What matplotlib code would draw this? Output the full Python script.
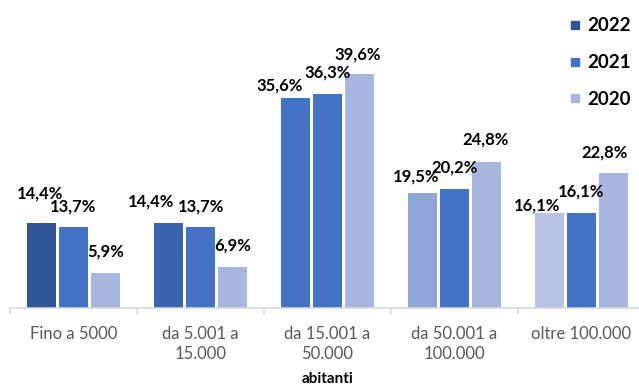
import numpy as np
import matplotlib.pyplot as plt
from matplotlib.lines import Line2D

plt.rcParams['font.family'] = ['Lato', 'DejaVu Sans']

categories = ['Fino a 5000', 'da 5.001 a\n15.000', 'da 15.001 a\n50.000',
              'da 50.001 a\n100.000', 'oltre 100.000']
years = ['2022', '2021', '2020']
v2022 = [14.4, 14.4, 35.6, 19.5, 16.1]
v2021 = [13.7, 13.7, 36.3, 20.2, 16.1]
v2020 = [5.9, 6.9, 39.6, 24.8, 22.8]

# Excel varied the 2022 point colours per category
c2022 = ['#2F5597', '#3964B0', '#4472C4', '#8FA6D8', '#B6C3E5']
c2021 = '#4472C4'
c2020 = '#A7B6DE'

# label nudges in pixels (dx, dy above bar top) to mimic Excel placement
off2022 = [(-1, 30), (-17, 22), (-16, 12), (-6, 16), (-12, 7)]
off2021 = [(0, 21), (1, 21), (0, 21), (0, 21), (0, 21)]
off2020 = [(0, 22), (0, 22), (-2, 20), (-1, 22), (-9, 21)]

fig = plt.figure(figsize=(6.39, 3.87), dpi=100)
ax = fig.add_axes([10/639, 79/387, 629/639, 265.5/387])

ind = np.arange(len(categories))
width = 0.228
step = 0.252

b1 = ax.bar(ind - step, v2022, width, color=c2022)
b2 = ax.bar(ind, v2021, width, color=c2021)
b3 = ax.bar(ind + step, v2020, width, color=c2020)

for bars, vals, offs in [(b1, v2022, off2022), (b2, v2021, off2021), (b3, v2020, off2020)]:
    for r, v, (dx, dy) in zip(bars, vals, offs):
        ax.annotate(('%.1f%%' % v).replace('.', ','),
                    (r.get_x() + r.get_width() / 2, r.get_height()),
                    xytext=(dx, dy), textcoords='offset pixels',
                    ha='center', va='center', fontsize=12, fontweight='bold',
                    color='black')

ax.set_ylim(0, 45)
ax.set_xlim(-0.5, 4.5 - 6/127)
ax.set_yticks([])
for s in ['top', 'right', 'left']:
    ax.spines[s].set_visible(False)
ax.spines['bottom'].set_color('#D9D9D9')
ax.spines['bottom'].set_linewidth(1.2)

ax.set_xticks(np.arange(0, 5) - 0.5, minor=False)
ax.set_xticklabels([])
ax.tick_params(axis='x', which='major', length=4, color='#D9D9D9', width=1.2)
ax.set_xticks(ind, minor=True)
ax.set_xticklabels(categories, minor=True, fontsize=12, color='#595959',
                   linespacing=1.3)
ax.tick_params(axis='x', which='minor', length=0, pad=13)

fig.text(327.5/639, 1 - 379/387, 'abitanti', ha='center', va='center',
         fontsize=11, fontweight='bold')

handles = [Line2D([], [], marker='s', linestyle='none', markersize=6, color=c)
           for c in [c2022[0], c2021, c2020]]
fig.legend(handles, years, loc='upper left', bbox_to_anchor=(552/639, 1 - 0.5/387),
           frameon=False, prop={'size': 13.5, 'weight': 'bold'},
           handlelength=0.7, handletextpad=0.3, labelspacing=1.05)

fig.savefig('out.png', dpi=100)
